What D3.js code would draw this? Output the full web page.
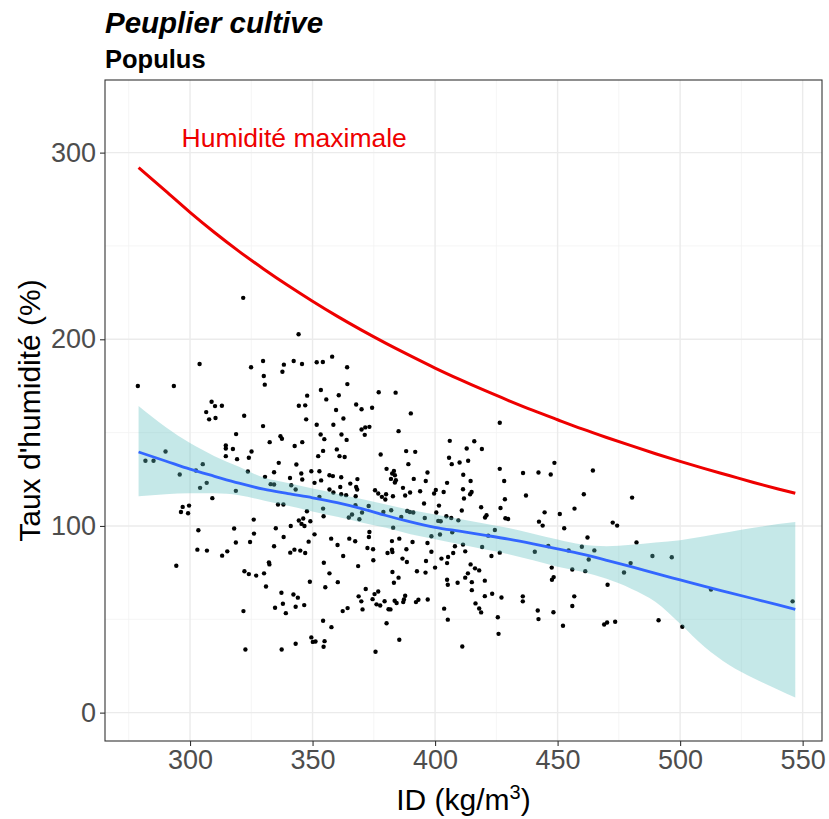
<!DOCTYPE html>
<html><head><meta charset="utf-8">
<script src="https://cdn.jsdelivr.net/npm/d3@7"></script>
<style>body{margin:0;background:#fff;}svg{display:block;font-family:"Liberation Sans",Arial,sans-serif;}</style>
</head><body><svg id="chart" width="829" height="819"></svg>
<script>
// ---- data ----
const title = "Peuplier cultive";
const subtitle = "Populus";
const xTicks = [300, 350, 400, 450, 500, 550];
const yTicks = [0, 100, 200, 300];
const xMinor = [275, 325, 375, 425, 475, 525];
const yMinor = [50, 150, 250];

// scatter: wood density ID (kg/m3) and moisture content (%)
const ID = [321.7,303.9,324.9,278.7,293.4,308.8,310.2,313.0,306.6,322.1,307.8,310.4,
344.3,329.8,338.3,342.3,345.7,351.7,354.2,358.0,364.1,337.7,330.1,330.5,364.2,353.4,347.8,360.7,377.0,355.6,344.4,347.0,367.8,370.0,374.3,359.6,347.4,362.6,
383.9,390.1,
318.8,314.6,314.6,317.5,325.1,314.6,319.2,324.0,290.0,281.8,285.1,305.2,295.8,302.4,323.6,306.8,304.1,318.7,309.1,297.0,299.6,296.3,299.2,326.0,303.4,318.0,326.1,
329.8,351.7,358.5,370.0,371.5,373.2,371.3,353.3,336.9,337.5,361.8,363.9,354.8,332.5,345.8,342.7,354.3,359.9,352.3,361.0,363.1,377.8,336.2,343.4,349.5,352.8,334.3,345.4,356.9,358.3,361.7,380.2,330.6,340.8,368.3,345.8,353.5,350.8,365.4,361.3,367.8,368.2,332.9,334.3,341.3,343.1,356.9,358.5,361.7,363.7,375.5,376.8,380.0,378.3,379.7,352.8,367.6,367.5,372.9,335.9,338.1,354.3,347.7,370.2,366.1,364.8,354.5,378.9,346.2,344.4,349.1,369.1,345.5,346.7,341.1,335.0,350.8,373.2,338.2,373.0,365.0,357.6,
385.1,426.4,406.0,416.0,388.2,391.9,412.9,419.1,405.7,406.8,410.0,413.5,389.1,383.2,382.5,383.6,396.9,382.0,384.0,383.6,391.3,396.2,411.5,414.5,426.4,428.2,404.9,386.9,393.9,389.8,400.3,399.6,403.5,411.4,414.9,414.3,382.8,387.8,411.8,428.5,395.5,401.6,418.8,426.7,410.9,388.6,389.7,391.1,400.5,404.6,406.6,409.5,421.0,420.4,428.7,429.8,401.3,402.3,382.1,386.2,395.8,382.9,398.5,402.0,407.0,424.4,421.7,385.4,
435.9,442.2,447.2,448.7,464.4,437.1,460.7,480.4,444.7,450.9,456.9,442.4,443.9,452.7,472.5,474.3,462.2,
303.0,306.9,313.1,315.2,318.7,324.5,294.4,322.2,324.0,327.0,321.8,322.6,
334.3,340.9,342.6,345.0,347.0,348.4,360.2,367.4,372.4,374.7,380.6,362.5,374.8,332.2,332.4,354.6,368.6,330.2,356.9,348.9,360.3,331.0,355.2,371.7,337.3,342.2,344.0,376.8,375.3,368.8,374.5,369.9,379.4,337.9,346.6,343.1,376.1,377.6,334.7,364.3,362.3,370.4,381.0,339.1,354.3,380.2,357.7,349.5,350.1,351.2,354.9,354.5,343.1,337.4,375.7,
382.4,390.8,396.9,382.4,382.6,388.3,398.5,386.7,388.5,402.6,405.3,407.4,404.9,396.3,412.3,423.0,414.5,416.3,418.0,400.0,382.6,392.6,396.1,413.4,412.3,385.1,383.2,404.9,405.2,409.2,415.0,420.3,415.0,423.3,427.1,420.3,387.8,387.3,387.0,383.5,384.3,393.2,392.2,397.0,416.5,418.0,418.8,381.8,403.7,405.2,425.6,425.9,385.4,411.1,408.1,411.4,419.2,426.4,
440.7,446.2,454.5,459.9,465.0,482.2,462.7,447.6,456.0,461.3,448.4,447.7,477.1,479.8,488.7,496.6,470.4,435.8,435.8,456.8,456.0,441.9,448.3,442.2,452.2,469.0,470.2,473.5,491.2,500.9,512.6,545.9];
const humidity = [222.2,186.8,185.0,175.0,175.0,166.5,164.2,164.4,161.0,159.0,157.1,157.8,
202.7,188.4,186.4,188.4,186.8,187.7,187.8,190.7,185.0,182.6,180.3,175.7,176.0,172.8,169.8,170.0,171.6,167.8,164.4,164.6,165.1,162.5,163.3,162.1,157.1,157.6,
171.4,160.3,
149.2,143.1,141.5,141.2,139.9,137.4,135.8,136.5,139.9,134.9,134.9,133.1,127.6,129.7,129.2,123.1,120.4,118.8,114.9,110.2,110.9,107.5,106.8,103.4,97.7,98.6,95.9,
153.5,154.2,154.2,151.7,152.8,153.1,148.8,149.0,148.1,146.7,149.0,146.1,146.5,144.9,144.9,142.8,140.2,141.0,137.4,137.4,136.9,138.3,133.8,132.9,129.3,129.3,128.8,128.1,127.2,126.7,126.1,130.6,126.3,125.7,125.1,124.9,124.4,123.1,122.7,120.9,120.9,119.5,122.4,122.2,121.8,119.5,119.5,117.9,117.0,116.5,119.1,117.4,117.0,115.6,114.2,115.6,115.9,111.1,110.7,111.5,111.5,109.3,107.9,107.2,106.1,104.5,105.2,107.5,104.0,102.9,102.5,103.6,101.1,100.0,100.0,98.8,95.5,96.8,94.1,94.1,93.2,93.2,
150.8,155.3,145.6,145.4,140.1,139.7,141.5,141.2,136.5,133.1,134.0,134.9,133.1,129.5,128.1,127.2,128.6,125.2,124.5,123.3,125.2,124.1,127.4,124.1,130.6,124.1,123.1,120.4,118.6,117.9,119.3,117.4,118.2,119.7,118.2,117.0,115.9,116.3,114.7,114.3,112.0,110.9,110.0,109.6,108.3,108.0,107.5,107.2,107.2,105.2,104.3,103.0,105.7,104.5,104.1,103.7,102.7,102.5,108.4,104.8,104.3,99.1,94.5,95.4,96.6,97.8,94.8,93.2,
128.4,128.6,127.6,133.8,129.7,116.3,117.0,115.2,107.3,106.4,109.3,102.3,100.2,98.8,101.8,100.2,93.8,
87.3,86.8,84.1,86.4,91.1,91.4,78.7,75.7,74.2,73.4,54.4,33.8,
89.1,85.7,87.3,86.8,85.5,91.6,89.8,91.8,88.2,87.5,85.5,83.9,81.6,80.5,79.4,80.3,78.5,74.6,74.6,70.1,69.9,67.6,67.2,66.2,64.2,63.3,61.6,64.9,63.5,62.3,60.8,59.6,59.7,58.3,57.6,56.7,58.0,57.4,56.2,56.0,54.4,55.3,55.4,53.3,49.2,47.9,45.8,40.3,37.9,38.1,38.3,35.3,36.9,33.8,32.6,
91.9,91.4,90.9,87.3,86.0,87.5,86.2,82.5,80.7,82.5,83.4,85.5,80.1,81.2,86.4,83.9,79.4,77.3,76.2,77.7,75.3,75.7,75.0,74.6,72.3,72.3,69.6,71.2,68.5,69.6,69.9,70.7,65.6,63.7,61.7,62.4,62.6,60.6,59.2,59.9,58.7,60.5,59.2,60.6,58.5,55.8,53.7,55.3,55.7,49.8,51.1,42.2,39.0,35.4,89.1,90.0,88.7,85.7,
86.2,89.3,86.9,88.9,86.9,91.2,82.0,77.7,76.7,75.8,72.6,71.2,75.1,80.1,83.9,83.2,68.5,62.3,59.6,62.3,57.1,54.7,53.8,50.1,46.5,47.2,48.3,48.7,49.5,46.0,65.9,59.6];

// curves sampled along ID
const curveID = [279,290,300,310,320,330,340,350,360,370,380,390,400,410,420,430,440,450,460,470,480,490,500,510,520,530,540,547];
const maxHumidity = [292.0,279.5,268.0,257.2,247.1,237.7,228.8,220.4,212.4,204.9,197.8,191.1,184.6,178.5,172.7,167.2,161.9,156.9,152.0,147.4,143.0,138.7,134.6,130.7,127.0,123.3,119.8,117.5];
const smoothFit = [139.6,134.8,130.4,126.6,122.9,119.7,117.3,115.1,112.5,109.3,105.6,102.2,99.3,97.2,95.1,92.9,90.4,87.7,84.9,81.6,78.2,74.6,71.1,67.6,64.3,61.0,57.7,55.3];
const smoothUpper = [164.2,153.0,144.4,137.4,131.7,125.9,123.0,120.1,117.3,114.4,111.5,108.5,106.1,103.7,101.3,98.9,95.8,92.7,90.0,89.1,89.9,91.1,92.4,94.5,96.7,99.0,101.0,102.1];
const smoothLower = [115.9,117.0,117.5,117.5,116.5,113.7,110.8,107.8,104.9,101.9,99.0,95.6,92.9,90.2,87.5,84.9,81.6,78.2,75.5,71.7,66.4,59.3,47.6,35.1,25.5,18.4,12.3,8.1];

// ---- drawing ----
const svg = d3.select("#chart");
const W = 829, H = 819;
svg.append("rect").attr("width", W).attr("height", H).attr("fill", "#fff");
const panel = {left: 105, right: 822, top: 80, bottom: 741};
const x = d3.scaleLinear().domain([265.3, 557.9]).range([panel.left, panel.right]);
const y = d3.scaleLinear().domain([-15.2, 338.9]).range([panel.bottom, panel.top]);

const g = svg.append("g");
// minor grid
g.selectAll(".vminor").data(xMinor).join("line")
  .attr("x1", d => x(d)).attr("x2", d => x(d)).attr("y1", panel.top).attr("y2", panel.bottom)
  .attr("stroke", "#f2f2f2").attr("stroke-width", 0.8);
g.selectAll(".hminor").data(yMinor).join("line")
  .attr("y1", d => y(d)).attr("y2", d => y(d)).attr("x1", panel.left).attr("x2", panel.right)
  .attr("stroke", "#f2f2f2").attr("stroke-width", 0.8);
// major grid
g.selectAll(".vmajor").data(xTicks).join("line")
  .attr("x1", d => x(d)).attr("x2", d => x(d)).attr("y1", panel.top).attr("y2", panel.bottom)
  .attr("stroke", "#ebebeb").attr("stroke-width", 1.4);
g.selectAll(".hmajor").data(yTicks).join("line")
  .attr("y1", d => y(d)).attr("y2", d => y(d)).attr("x1", panel.left).attr("x2", panel.right)
  .attr("stroke", "#ebebeb").attr("stroke-width", 1.4);

// points
const pts = ID.map((v, i) => [v, humidity[i]]);
g.selectAll("circle.pt").data(pts).join("circle")
  .attr("cx", d => x(d[0])).attr("cy", d => y(d[1])).attr("r", 2.2).attr("fill", "#000");

// smoother band
const band = curveID.map((v, i) => ({x: v, lo: smoothLower[i], hi: smoothUpper[i], fit: smoothFit[i], mx: maxHumidity[i]}));
g.append("path").datum(band)
  .attr("d", d3.area().x(d => x(d.x)).y0(d => y(d.lo)).y1(d => y(d.hi)).curve(d3.curveMonotoneX))
  .attr("fill", "#5fc0c0").attr("fill-opacity", 0.36);
g.append("path").datum(band)
  .attr("d", d3.line().x(d => x(d.x)).y(d => y(d.fit)).curve(d3.curveMonotoneX))
  .attr("fill", "none").attr("stroke", "#3366FF").attr("stroke-width", 2.8);
// maximum moisture curve
g.append("path").datum(band)
  .attr("d", d3.line().x(d => x(d.x)).y(d => y(d.mx)).curve(d3.curveMonotoneX))
  .attr("fill", "none").attr("stroke", "#ee0000").attr("stroke-width", 3);

// annotation
svg.append("text").attr("x", x(342.5)).attr("y", y(308)).attr("text-anchor", "middle")
  .attr("dominant-baseline", "central").attr("fill", "#ee0000").attr("font-size", 26.5)
  .text("Humidité maximale");

// panel border
svg.append("rect").attr("x", panel.left).attr("y", panel.top)
  .attr("width", panel.right - panel.left).attr("height", panel.bottom - panel.top)
  .attr("fill", "none").attr("stroke", "#333").attr("stroke-width", 1.1);

// axes
const xAxis = d3.axisBottom(x).tickValues(xTicks).tickSize(5).tickPadding(4).tickFormat(d3.format("d"));
const yAxis = d3.axisLeft(y).tickValues(yTicks).tickSize(5).tickPadding(4).tickFormat(d3.format("d"));
const gx = svg.append("g").attr("transform", `translate(0,${panel.bottom})`).call(xAxis);
const gy = svg.append("g").attr("transform", `translate(${panel.left},0)`).call(yAxis);
[gx, gy].forEach(a => {
  a.select(".domain").remove();
  a.selectAll(".tick line").attr("stroke", "#333").attr("stroke-width", 1.1);
  a.selectAll(".tick text").attr("fill", "#4d4d4d").attr("font-size", 27)
    .attr("font-family", "'Liberation Sans', Arial, sans-serif");
});

// axis titles
const xt = svg.append("text").attr("x", (panel.left + panel.right) / 2).attr("y", 810)
  .attr("text-anchor", "middle").attr("font-size", 30).attr("fill", "#000");
xt.append("tspan").text("ID (kg/m");
xt.append("tspan").attr("font-size", 20).attr("dy", -11).text("3");
xt.append("tspan").attr("dy", 11).text(")");
svg.append("text").attr("transform", `translate(40,${(panel.top + panel.bottom) / 2}) rotate(-90)`)
  .attr("text-anchor", "middle").attr("font-size", 30).attr("fill", "#000")
  .text("Taux d'humidité (%)");

// titles
svg.append("text").attr("x", 105).attr("y", 33).attr("font-size", 29.5).attr("font-weight", "bold")
  .attr("font-style", "italic").attr("fill", "#000").text(title);
svg.append("text").attr("x", 105).attr("y", 68).attr("font-size", 25.5).attr("font-weight", "bold")
  .attr("fill", "#000").text(subtitle);
</script></body></html>
